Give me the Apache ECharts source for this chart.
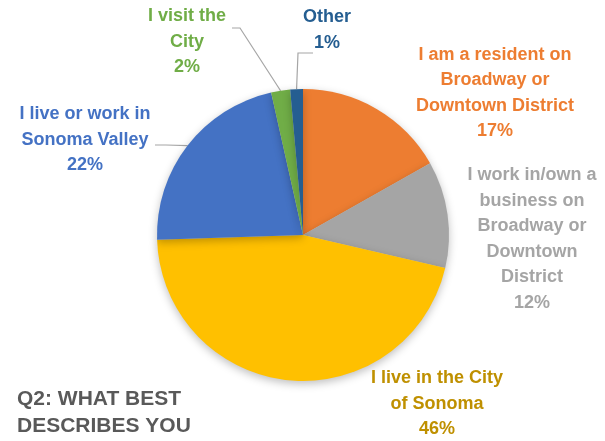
<!DOCTYPE html>
<html>
<head>
<meta charset="utf-8">
<script src="https://cdn.jsdelivr.net/npm/echarts@6/dist/echarts.min.js"></script>
<style>
  html, body { margin: 0; padding: 0; background: #fff; }
  #chart { width: 605px; height: 441px; }
</style>
</head>
<body>
<div id="chart"></div>
<script>
// 数据
const categories = [
  'I am a resident on\nBroadway or\nDowntown District',
  'I work in/own a\nbusiness on\nBroadway or\nDowntown\nDistrict',
  'I live in the City\nof Sonoma',
  'I live or work in\nSonoma Valley',
  'I visit the\nCity',
  'Other'
];
const shares = [16.8, 11.8, 45.8, 22.0, 2.1, 1.4];
const colors = ['#ED7D31', '#A5A5A5', '#FFC000', '#4472C4', '#70AD47', '#255E91'];
const labelColors = ['#ED7D31', '#A5A5A5', '#BF9000', '#4472C4', '#70AD47', '#255E91'];
const showLines = [false, false, false, true, true, true];

// 标签位置（文字块中心）与引导线终点
const labelPos = [[495, 93], [532, 239], [437, 404], [85, 140], [187, 42], [327, 30]];
const lineEnds = [null, null, null, [155, 145], [232, 28], [313, 53]];
const lineBends = [null, null, null, [166, 145], [240, 28], [298, 53]];

const myChart = echarts.init(document.getElementById('chart'));

const option = {
  backgroundColor: '#fff',
  animation: false,
  title: {
    text: 'Q2: WHAT BEST\nDESCRIBES YOU',
    left: 12,
    top: 381,
    textStyle: {
      fontFamily: 'Liberation Sans',
      fontSize: 21,
      fontWeight: 'bold',
      color: '#595959',
      lineHeight: 27
    }
  },
  series: [{
    type: 'pie',
    center: [303, 235],
    radius: 146,
    startAngle: 90,
    clockwise: true,
    itemStyle: {
      shadowBlur: 8,
      shadowOffsetY: 3,
      shadowColor: 'rgba(0,0,0,0.25)'
    },
    label: {
      show: true,
      fontFamily: 'Liberation Sans',
      fontSize: 18,
      fontWeight: 'bold',
      lineHeight: 25.5,
      align: 'center',
      overflow: 'none',
      formatter: function (p) {
        return p.name + '\n' + Math.round(p.value) + '%';
      }
    },
    labelLine: {
      show: true,
      length: 12,
      length2: 8,
      lineStyle: { color: '#A6A6A6', width: 1.2 }
    },
    labelLayout: function (params) {
      const i = params.dataIndex;
      const pos = labelPos[i];
      const res = {
        x: pos[0],
        y: pos[1],
        align: 'center',
        verticalAlign: 'middle'
      };
      if (lineEnds[i] && params.labelLinePoints) {
        res.labelLinePoints = [
          params.labelLinePoints[0],
          lineBends[i],
          lineEnds[i]
        ];
      }
      return res;
    },
    data: categories.map(function (name, i) {
      return {
        name: name,
        value: shares[i],
        itemStyle: { color: colors[i] },
        label: { color: labelColors[i] },
        labelLine: { show: showLines[i] }
      };
    })
  }]
};

myChart.setOption(option);
</script>
</body>
</html>
